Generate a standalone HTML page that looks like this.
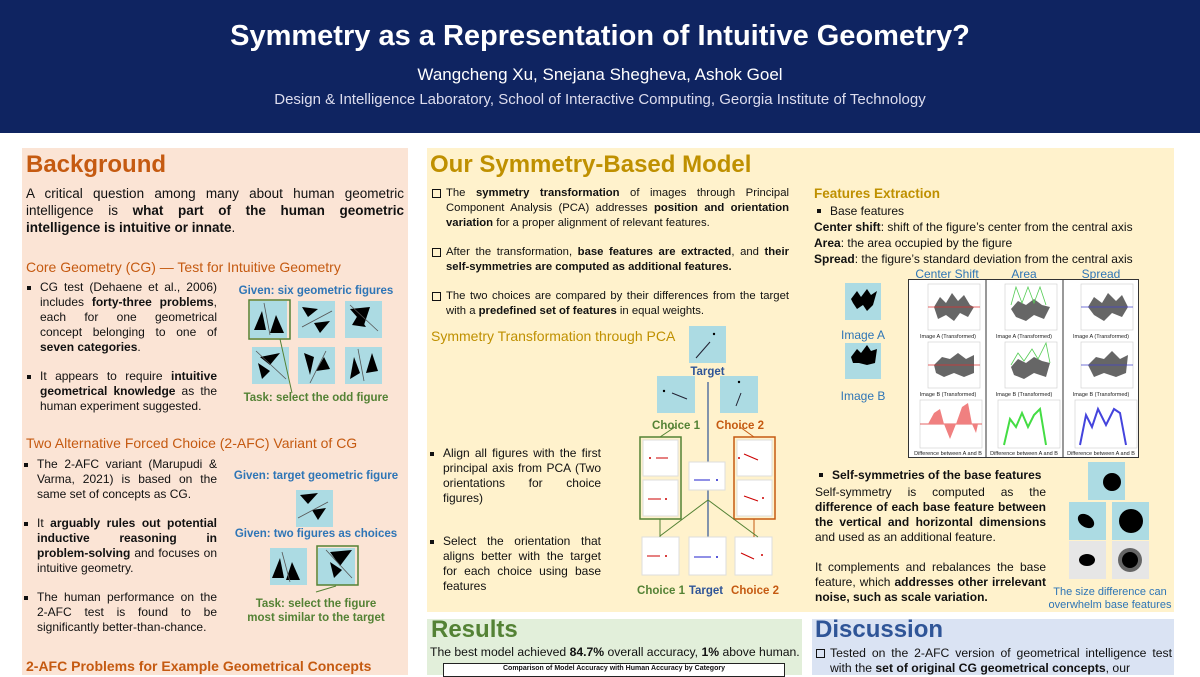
<!DOCTYPE html>
<html><head><meta charset="utf-8"><style>
*{margin:0;padding:0;box-sizing:border-box}
body{width:1200px;height:675px;overflow:hidden;background:#fff;font-family:"Liberation Sans",sans-serif;position:relative;color:#111}
.a{position:absolute}
.hdr{left:0;top:0;width:1200px;height:133px;background:#0f2461;color:#fff;text-align:center}
.panel{position:absolute}
h1{font-size:29px;font-weight:bold;position:absolute;left:0;width:1200px;top:20px}
.h{font-weight:bold;font-size:24px}
.sh{font-size:14px;font-weight:bold}
.j{text-align:justify;font-size:12px;line-height:15px}
.bl{position:relative;padding-left:13px}
.bl:before{content:"";position:absolute;left:0;top:6px;width:4px;height:4px;background:#111}
.cb{position:relative;padding-left:15px}
.cb:before{content:"";position:absolute;left:1px;top:3px;width:7px;height:7px;border:1px solid #111}
.sq{position:absolute;background:#acdbe3}
.lb{position:absolute;font-size:11.5px;font-weight:bold;text-align:center}
</style></head><body>
<div class="a hdr">
<h1>Symmetry as a Representation of Intuitive Geometry?</h1>
<div class="a" style="left:0;width:1200px;top:65px;font-size:17px">Wangcheng Xu, Snejana Shegheva, Ashok Goel</div>
<div class="a" style="left:0;width:1200px;top:91px;font-size:15px;color:#dde">Design &amp; Intelligence Laboratory, School of Interactive Computing, Georgia Institute of Technology</div>
</div>

<!-- left panel -->
<div class="panel" style="left:22px;top:148px;width:386px;height:527px;background:#fbe4d5"></div>
<div class="a h" style="left:26px;top:151px;color:#c55a11">Background</div>
<div class="a j" style="left:26px;top:185px;width:378px;font-size:13.5px;line-height:17px">A critical question among many about human geometric intelligence is <b>what part of the human geometric intelligence is intuitive or innate</b>.</div>
<div class="a sh" style="left:26px;top:259px;color:#c55a11;font-weight:normal">Core Geometry (CG) — Test for Intuitive Geometry</div>
<div class="a j" style="left:27px;top:280px;width:190px">
<div class="bl">CG test (Dehaene et al., 2006) includes <b>forty-three problems</b>, each for one geometrical concept belonging to one of <b>seven categories</b>.</div>
<div class="bl" style="margin-top:14px">It appears to require <b>intuitive geometrical knowledge</b> as the human experiment suggested.</div>
</div>
<div class="lb" style="left:232px;top:285px;width:168px;color:#2e75b6">Given: six geometric figures</div>
<svg class="a" style="left:240px;top:295px" width="160" height="100">
<g fill="#acdbe3"><rect x="10" y="6" width="37" height="37"/><rect x="58" y="6" width="37" height="37"/><rect x="105" y="6" width="37" height="37"/><rect x="12" y="52" width="37" height="37"/><rect x="58" y="52" width="37" height="37"/><rect x="105" y="52" width="37" height="37"/></g>
<rect x="9" y="5" width="41" height="39" fill="none" stroke="#548235" stroke-width="1.5"/>
<line x1="40" y1="44" x2="52" y2="98" stroke="#548235"/>
<g fill="#000"><polygon points="14,35 22,16 26,35"/><polygon points="30,38 36,20 44,38"/><polygon points="62,12 78,14 68,22"/><polygon points="74,28 90,26 80,38"/><polygon points="110,14 130,12 124,30"/><polygon points="112,30 118,20 126,32"/><polygon points="20,62 40,58 30,70"/><polygon points="18,68 22,84 30,76"/><polygon points="64,58 70,80 74,62"/><polygon points="76,76 90,74 84,62"/><polygon points="110,84 114,62 120,78"/><polygon points="126,78 132,58 138,76"/></g>
<g stroke="#555" stroke-width="0.8"><line x1="24" y1="8" x2="30" y2="40"/><line x1="62" y1="32" x2="92" y2="16"/><line x1="110" y1="10" x2="138" y2="36"/><line x1="16" y1="56" x2="46" y2="84"/><line x1="70" y1="88" x2="86" y2="56"/><line x1="118" y1="54" x2="124" y2="86"/></g>
</svg>
<div class="lb" style="left:232px;top:392px;width:168px;color:#548235">Task: select the odd figure</div>

<div class="a sh" style="left:26px;top:435px;color:#c55a11;font-weight:normal">Two Alternative Forced Choice (2-AFC) Variant of CG</div>
<div class="a j" style="left:24px;top:457px;width:193px">
<div class="bl">The 2-AFC variant (Marupudi &amp; Varma, 2021) is based on the same set of concepts as CG.</div>
<div class="bl" style="margin-top:14px">It <b>arguably rules out potential inductive reasoning in problem-solving</b> and focuses on intuitive geometry.</div>
<div class="bl" style="margin-top:14px">The human performance on the 2-AFC test is found to be significantly better-than-chance.</div>
</div>
<div class="lb" style="left:226px;top:470px;width:180px;color:#2e75b6">Given: target geometric figure</div>
<div class="lb" style="left:226px;top:528px;width:180px;color:#2e75b6">Given: two figures as choices</div>
<svg class="a" style="left:260px;top:480px" width="110" height="115">
<g fill="#acdbe3"><rect x="36" y="10" width="37" height="37"/><rect x="10" y="68" width="37" height="37"/><rect x="58" y="68" width="37" height="37"/></g>
<rect x="57" y="66" width="41" height="39" fill="none" stroke="#548235" stroke-width="1.5"/>
<g fill="#000"><polygon points="40,15 58,13 48,24"/><polygon points="52,30 66,28 58,40"/><polygon points="12,98 20,78 24,98"/><polygon points="26,100 32,82 40,100"/><polygon points="70,72 92,70 80,86"/><polygon points="70,82 74,98 82,90"/></g>
<g stroke="#555" stroke-width="0.8"><line x1="38" y1="38" x2="68" y2="22"/><line x1="22" y1="72" x2="30" y2="102"/><line x1="66" y1="70" x2="92" y2="98"/></g>
<line x1="76" y1="106" x2="56" y2="112" stroke="#548235"/>
</svg>
<div class="lb" style="left:226px;top:597px;width:180px;color:#548235;line-height:14px">Task: select the figure<br>most similar to the target</div>
<div class="a sh" style="left:26px;top:658px;color:#c55a11">2-AFC Problems for Example Geometrical Concepts</div>

<!-- middle big panel -->
<div class="panel" style="left:427px;top:148px;width:747px;height:464px;background:#fff2cc"></div>
<div class="a h" style="left:430px;top:151px;color:#bf9000">Our Symmetry-Based Model</div>
<div class="a j" style="left:431px;top:186px;width:358px;font-size:11.3px">
<div class="cb">The <b>symmetry transformation</b> of images through Principal Component Analysis (PCA) addresses <b>position and orientation variation</b> for a proper alignment of relevant features.</div>
<div class="cb" style="margin-top:14px">After the transformation, <b>base features are extracted</b>, and <b>their self-symmetries are computed as additional features.</b></div>
<div class="cb" style="margin-top:14px">The two choices are compared by their differences from the target with a <b>predefined set of features</b> in equal weights.</div>
</div>
<div class="a sh" style="left:431px;top:328px;color:#bf9000;font-weight:normal">Symmetry Transformation through PCA</div>
<div class="a j" style="left:430px;top:446px;width:171px">
<div class="bl">Align all figures with the first principal axis from PCA (Two orientations for choice figures)</div>
<div class="bl" style="margin-top:28px">Select the orientation that aligns better with the target for each choice using base features</div>
</div>
<svg class="a" style="left:630px;top:320px" width="160" height="285">
<rect x="59" y="6" width="37" height="37" fill="#acdbe3"/>
<line x1="66" y1="38" x2="80" y2="22" stroke="#223"/><circle cx="84" cy="14" r="1.2"/>
<rect x="27" y="56" width="38" height="37" fill="#acdbe3"/><rect x="90" y="56" width="38" height="37" fill="#acdbe3"/>
<line x1="42" y1="73" x2="57" y2="79" stroke="#223"/><circle cx="34" cy="71" r="1.2"/>
<line x1="106" y1="86" x2="111" y2="73" stroke="#223"/><circle cx="109" cy="62" r="1.2"/>
<line x1="78" y1="62" x2="78" y2="222" stroke="#2f5597" stroke-width="1.2"/>
<rect x="10" y="117" width="41" height="82" fill="none" stroke="#548235" stroke-width="1.5"/>
<rect x="104" y="117" width="41" height="82" fill="none" stroke="#c55a11" stroke-width="1.5"/>
<line x1="30" y1="117" x2="45" y2="107" stroke="#548235"/><line x1="124" y1="117" x2="110" y2="107" stroke="#c55a11"/>
<g fill="#fff" stroke="#ddd"><rect x="13" y="120" width="35" height="36"/><rect x="13" y="160" width="35" height="36"/><rect x="107" y="120" width="35" height="36"/><rect x="107" y="160" width="35" height="36"/><rect x="59" y="142" width="36" height="28"/><rect x="12" y="217" width="37" height="38"/><rect x="59" y="217" width="37" height="38"/><rect x="105" y="217" width="37" height="38"/></g>
<g stroke="#c00"><line x1="26" y1="138" x2="38" y2="138"/><line x1="18" y1="179" x2="31" y2="179"/><line x1="114" y1="134" x2="128" y2="140"/><line x1="114" y1="176" x2="128" y2="181"/><line x1="17" y1="236" x2="30" y2="236"/><line x1="111" y1="233" x2="124" y2="239"/></g>
<g fill="#c00"><circle cx="20" cy="138" r="1"/><circle cx="36" cy="179" r="1"/><circle cx="109" cy="138" r="1"/><circle cx="133" cy="178" r="1"/><circle cx="36" cy="236" r="1"/><circle cx="132" cy="235" r="1"/></g>
<g stroke="#22c"><line x1="64" y1="160" x2="80" y2="160"/><line x1="64" y1="237" x2="81" y2="237"/></g>
<g fill="#22c"><circle cx="87" cy="160" r="1"/><circle cx="87" cy="237" r="1"/></g>
<line x1="30" y1="199" x2="30" y2="217" stroke="#548235"/><line x1="124" y1="199" x2="124" y2="217" stroke="#c55a11"/>
<polyline points="30,216 78,180 128,217" fill="none" stroke="#548235"/>
</svg>
<div class="lb" style="left:680px;top:366px;width:55px;color:#2f5597">Target</div>
<div class="lb" style="left:645px;top:420px;width:62px;color:#548235">Choice 1</div>
<div class="lb" style="left:708px;top:420px;width:64px;color:#c55a11">Choice 2</div>
<div class="lb" style="left:636px;top:585px;width:50px;color:#548235">Choice 1</div>
<div class="lb" style="left:684px;top:585px;width:44px;color:#2f5597">Target</div>
<div class="lb" style="left:728px;top:585px;width:54px;color:#c55a11">Choice 2</div>

<!-- right part -->
<div class="a sh" style="left:814px;top:186px;color:#bf9000;font-size:13.5px">Features Extraction</div>
<div class="a" style="left:814px;top:203px;font-size:12px;line-height:16px;width:360px">
<div class="bl" style="margin-left:3px">Base features</div>
<div><b>Center shift</b>: shift of the figure’s center from the central axis</div>
<div><b>Area</b>: the area occupied by the figure</div>
<div><b>Spread</b>: the figure’s standard deviation from the central axis</div>
</div>
<div class="a" style="left:908px;top:267px;width:78px;text-align:center;font-size:12px;color:#2e75b6">Center Shift</div>
<div class="a" style="left:986px;top:267px;width:76px;text-align:center;font-size:12px;color:#2e75b6">Area</div>
<div class="a" style="left:1062px;top:267px;width:78px;text-align:center;font-size:12px;color:#2e75b6">Spread</div>
<div class="sq" style="left:845px;top:283px;width:36px;height:37px"></div>
<div class="sq" style="left:845px;top:343px;width:36px;height:36px"></div>
<svg class="a" style="left:845px;top:283px" width="36" height="100"><polygon points="6,16 12,8 16,14 22,6 26,12 32,8 28,22 22,28 18,22 12,26 8,20" fill="#000"/><polygon points="6,74 12,66 16,70 22,62 26,68 32,66 30,80 22,82 14,80 8,80" fill="#000"/></svg>
<div class="a" style="left:832px;top:328px;width:62px;text-align:center;font-size:12px;color:#2e75b6">Image A</div>
<div class="a" style="left:832px;top:389px;width:62px;text-align:center;font-size:12px;color:#2e75b6">Image B</div>
<svg class="a" style="left:908px;top:279px" width="231" height="179" font-family="Liberation Sans" font-size="5.5">
<rect x="0.5" y="0.5" width="230" height="178" fill="#fff" stroke="#333"/>
<line x1="78" y1="0" x2="78" y2="179" stroke="#333"/><line x1="155" y1="0" x2="155" y2="179" stroke="#333"/>
<g fill="none" stroke="#ccc" stroke-width="0.6">
<rect x="20" y="5" width="52" height="46"/><rect x="97" y="5" width="52" height="46"/><rect x="173" y="5" width="52" height="46"/>
<rect x="20" y="63" width="52" height="46"/><rect x="97" y="63" width="52" height="46"/><rect x="173" y="63" width="52" height="46"/>
<rect x="12" y="121" width="62" height="48"/><rect x="90" y="121" width="62" height="48"/><rect x="167" y="121" width="62" height="48"/></g>
<g fill="#666"><path d="M26 28 L32 18 L38 24 L44 14 L50 22 L56 16 L62 26 L66 28 L60 38 L52 34 L46 42 L38 36 L30 40Z"/><path d="M103 30 L110 22 L118 26 L126 20 L134 26 L142 28 L136 40 L126 36 L118 42 L108 38Z"/><path d="M180 28 L186 18 L194 24 L200 14 L208 22 L214 16 L220 28 L214 38 L204 34 L196 42 L186 36Z"/>
<path d="M26 86 L34 78 L42 80 L50 74 L58 80 L66 76 L66 94 L56 98 L46 94 L36 98 L28 94Z"/><path d="M103 88 L110 80 L118 84 L126 78 L134 82 L142 84 L138 98 L126 94 L116 100 L106 96Z"/><path d="M180 86 L188 78 L196 80 L204 72 L212 80 L220 76 L218 94 L208 98 L196 94 L186 98Z"/></g>
<g fill="none" stroke-width="0.8"><line x1="20" y1="28" x2="72" y2="28" stroke="#d33"/><line x1="20" y1="86" x2="72" y2="86" stroke="#d33"/><polyline points="103,26 108,8 114,24 120,8 126,24 132,8 138,26" stroke="#5c5"/><polyline points="103,86 110,74 116,82 124,70 130,80 138,64 142,84" stroke="#5c5"/><line x1="173" y1="28" x2="225" y2="28" stroke="#44c"/><line x1="173" y1="86" x2="225" y2="86" stroke="#44c"/><line x1="12" y1="145" x2="74" y2="145" stroke="#d33"/></g>
<path d="M20 145 L26 134 L32 130 L36 145 L42 160 L48 145 L54 128 L60 124 L64 145 L68 154 L70 145Z" fill="#f08080"/>
<polyline points="96,166 102,140 108,148 114,134 120,148 126,136 132,130 138,166" fill="none" stroke="#4d4" stroke-width="2"/>
<polyline points="172,166 178,136 184,148 190,130 198,146 206,130 212,134 218,166" fill="none" stroke="#44d" stroke-width="2"/>
<g fill="#222" text-anchor="middle"><text x="40" y="59">Image A (Transformed)</text><text x="116" y="59">Image A (Transformed)</text><text x="193" y="59">Image A (Transformed)</text><text x="40" y="117">Image B (Transformed)</text><text x="116" y="117">Image B (Transformed)</text><text x="193" y="117">Image B (Transformed)</text><text x="40" y="176">Difference between A and B</text><text x="116" y="176">Difference between A and B</text><text x="193" y="176">Difference between A and B</text></g>
</svg>
<div class="a" style="left:816px;top:468px;font-size:12px;font-weight:bold"><span style="display:inline-block;width:4px;height:4px;background:#111;margin:0 9px 2px 3px"></span>Self-symmetries of the base features</div>
<div class="a j" style="left:815px;top:485px;width:231px;font-size:12px;line-height:15px">Self-symmetry is computed as the <b>difference of each base feature between the vertical and horizontal dimensions</b> and used as an additional feature.<br><br>It complements and rebalances the base feature, which <b>addresses other irrelevant noise, such as scale variation.</b></div>
<svg class="a" style="left:1068px;top:462px" width="82" height="118">
<rect x="20" y="0" width="37" height="38" fill="#acdbe3"/><rect x="1" y="40" width="37" height="38" fill="#acdbe3"/><rect x="44" y="40" width="37" height="38" fill="#acdbe3"/>
<rect x="1" y="79" width="37" height="38" fill="#e6e6e6"/><rect x="44" y="79" width="37" height="38" fill="#e6e6e6"/>
<circle cx="44" cy="20" r="9" fill="#000"/>
<ellipse cx="18" cy="59" rx="9" ry="6" transform="rotate(35 18 59)" fill="#000"/><circle cx="63" cy="59" r="12" fill="#000"/>
<ellipse cx="19" cy="98" rx="8" ry="6" fill="#000"/><circle cx="62" cy="98" r="12" fill="#666"/><circle cx="62" cy="98" r="8" fill="#000"/>
</svg>
<div class="a" style="left:1040px;top:586px;width:140px;text-align:center;font-size:11px;line-height:13px;color:#2e75b6">The size difference can overwhelm base features</div>

<!-- Results -->
<div class="panel" style="left:427px;top:619px;width:375px;height:56px;background:#e2efda"></div>
<div class="a h" style="left:431px;top:616px;color:#548235">Results</div>
<div class="a" style="left:430px;top:645px;font-size:12.2px;white-space:nowrap">The best model achieved <b>84.7%</b> overall accuracy, <b>1%</b> above human.</div>
<div class="a" style="left:443px;top:663px;width:342px;height:14px;background:#fff;border:1px solid #222;font-size:7px;font-weight:bold;text-align:center;line-height:10px">Comparison of Model Accuracy with Human Accuracy by Category</div>

<!-- Discussion -->
<div class="panel" style="left:812px;top:619px;width:362px;height:56px;background:#dae3f3"></div>
<div class="a h" style="left:815px;top:616px;color:#2f5597">Discussion</div>
<div class="a j" style="left:815px;top:646px;width:357px;font-size:12.2px"><div class="cb">Tested on the 2-AFC version of geometrical intelligence test with the <b>set of original CG geometrical concepts</b>, our</div></div>
</body></html>
